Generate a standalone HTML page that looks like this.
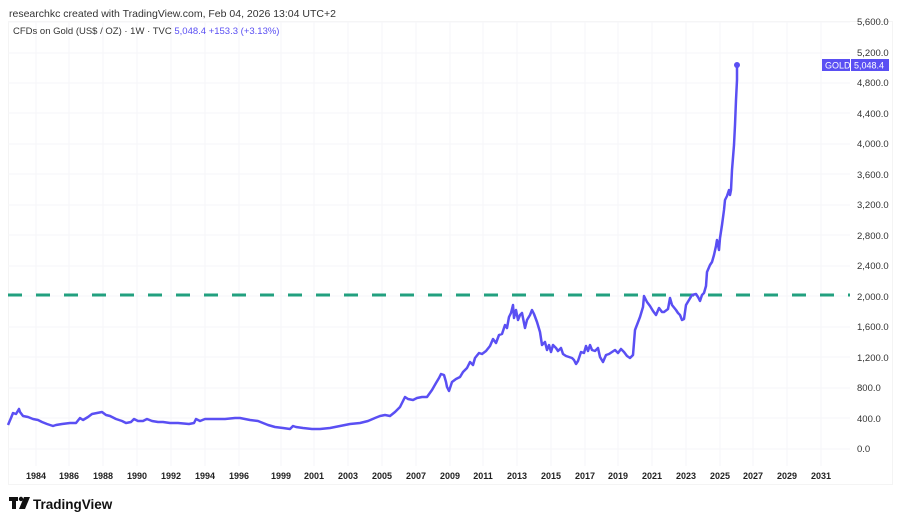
<!DOCTYPE html>
<html><head><meta charset="utf-8"><style>
body{margin:0;background:#fff;font-family:"Liberation Sans",sans-serif;}
.wrap{position:relative;width:902px;height:517px;overflow:hidden;}
</style></head><body><div class="wrap">
<svg width="902" height="517" style="position:absolute;left:0;top:0" font-family="Liberation Sans, sans-serif">
<rect x="8.5" y="21.5" width="884" height="463" fill="none" stroke="#f4f4f4"/>
<g stroke="#f6f6f8" stroke-width="1">
<line x1="8" x2="850" y1="22" y2="22"/><line x1="8" x2="850" y1="53" y2="53"/><line x1="8" x2="850" y1="83" y2="83"/><line x1="8" x2="850" y1="113" y2="113"/><line x1="8" x2="850" y1="144" y2="144"/><line x1="8" x2="850" y1="174" y2="174"/><line x1="8" x2="850" y1="205" y2="205"/><line x1="8" x2="850" y1="235" y2="235"/><line x1="8" x2="850" y1="266" y2="266"/><line x1="8" x2="850" y1="296" y2="296"/><line x1="8" x2="850" y1="327" y2="327"/><line x1="8" x2="850" y1="357" y2="357"/><line x1="8" x2="850" y1="388" y2="388"/><line x1="8" x2="850" y1="418" y2="418"/><line x1="8" x2="850" y1="449" y2="449"/>
<line x1="36" x2="36" y1="22" y2="466"/><line x1="69" x2="69" y1="22" y2="466"/><line x1="103" x2="103" y1="22" y2="466"/><line x1="137" x2="137" y1="22" y2="466"/><line x1="171" x2="171" y1="22" y2="466"/><line x1="205" x2="205" y1="22" y2="466"/><line x1="239" x2="239" y1="22" y2="466"/><line x1="281" x2="281" y1="22" y2="466"/><line x1="314" x2="314" y1="22" y2="466"/><line x1="348" x2="348" y1="22" y2="466"/><line x1="382" x2="382" y1="22" y2="466"/><line x1="416" x2="416" y1="22" y2="466"/><line x1="450" x2="450" y1="22" y2="466"/><line x1="483" x2="483" y1="22" y2="466"/><line x1="517" x2="517" y1="22" y2="466"/><line x1="551" x2="551" y1="22" y2="466"/><line x1="585" x2="585" y1="22" y2="466"/><line x1="618" x2="618" y1="22" y2="466"/><line x1="652" x2="652" y1="22" y2="466"/><line x1="686" x2="686" y1="22" y2="466"/><line x1="720" x2="720" y1="22" y2="466"/><line x1="753" x2="753" y1="22" y2="466"/><line x1="787" x2="787" y1="22" y2="466"/><line x1="821" x2="821" y1="22" y2="466"/>
</g>
<line x1="8" x2="850" y1="295" y2="295" stroke="#22a07f" stroke-width="3" stroke-dasharray="14 14"/>
<polyline fill="none" stroke="#5a4ff3" stroke-width="2.5" stroke-linejoin="round" points="8,425 11,418 13,413 16,414 19,409 20,412 23,416 28,417 33,419 38,420 42,422 47,424 53,426 56,425 62,424 70,423 76,423 80,418 83,420 88,417 92,414 97,413 102,412 106,415 110,416 116,419 122,421 126,423 131,422 134,419 138,421 143,421 147,419 152,421 158,422 163,422 170,423 178,423 189,424 194,423 196,419 200,421 205,419 215,419 225,419 235,418 240,418 250,420 258,421 268,425 275,427 283,428 290,429 293,426 296,427 303,428 312,429 320,429 330,428 340,426 350,424 360,423 368,421 375,418 380,416 385,415 390,416 395,412 400,407 403,401 405,397 408,399 413,400 417,398 422,397 427,397 432,390 436,383 439,378 441,374 444,375 446,382 447,387 449,391 452,382 456,379 460,377 463,372 467,368 470,362 473,365 475,358 479,353 482,354 486,351 490,346 493,339 496,343 499,335 502,334 505,325 507,328 509,317 511,313 513,305 514,318 516,310 518,320 520,315 522,313 525,328 527,320 530,315 532,310 534,314 537,322 540,332 542,345 545,342 547,350 549,345 551,352 553,345 556,348 558,351 561,348 563,354 566,356 569,357 572,358 574,360 576,364 578,361 581,352 584,353 586,346 588,351 590,345 592,350 595,351 598,348 600,357 603,362 606,355 609,354 612,352 615,350 618,353 621,349 624,352 627,356 630,358 633,355 635,330 640,317 643,307 644,296 647,302 650,306 653,311 656,315 659,308 662,312 664,312 668,309 670,298 672,305 676,310 678,313 680,315 682,320 684,319 686,305 689,300 692,295 696,294 698,297 700,301 702,295 704,293 706,286 707,272 710,265 712,262 714,255 716,246 717,240 719,250 720,238 722,225 724,210 725,200 727,196 729,190 730,195 731,190 732,170 734,145 735,125 736,100 737,80 737,65"/>
<circle cx="737" cy="65" r="3" fill="#5a4ff3"/>
<g font-size="9.5" fill="#333">
<text x="857" y="25">5,600.0</text><text x="857" y="56">5,200.0</text><text x="857" y="86">4,800.0</text><text x="857" y="117">4,400.0</text><text x="857" y="147">4,000.0</text><text x="857" y="178">3,600.0</text><text x="857" y="208">3,200.0</text><text x="857" y="239">2,800.0</text><text x="857" y="269">2,400.0</text><text x="857" y="300">2,000.0</text><text x="857" y="330">1,600.0</text><text x="857" y="361">1,200.0</text><text x="857" y="391">800.0</text><text x="857" y="422">400.0</text><text x="857" y="452">0.0</text>
</g>
<rect x="822" y="59" width="28" height="12" fill="#5a4ff3"/><rect x="851" y="59" width="38" height="12" fill="#5a4ff3"/>
<text x="825" y="68.5" font-size="9" fill="#fff">GOLD</text><text x="854" y="68.5" font-size="9" fill="#fff">5,048.4</text>
<g font-size="9" font-weight="bold" fill="#222" text-anchor="middle">
<text x="36" y="479">1984</text><text x="69" y="479">1986</text><text x="103" y="479">1988</text><text x="137" y="479">1990</text><text x="171" y="479">1992</text><text x="205" y="479">1994</text><text x="239" y="479">1996</text><text x="281" y="479">1999</text><text x="314" y="479">2001</text><text x="348" y="479">2003</text><text x="382" y="479">2005</text><text x="416" y="479">2007</text><text x="450" y="479">2009</text><text x="483" y="479">2011</text><text x="517" y="479">2013</text><text x="551" y="479">2015</text><text x="585" y="479">2017</text><text x="618" y="479">2019</text><text x="652" y="479">2021</text><text x="686" y="479">2023</text><text x="720" y="479">2025</text><text x="753" y="479">2027</text><text x="787" y="479">2029</text><text x="821" y="479">2031</text>
</g>
<text x="9" y="17" font-size="10.5" fill="#333">researchkc created with TradingView.com, Feb 04, 2026 13:04 UTC+2</text>
<text x="13" y="34" font-size="9.5" fill="#333">CFDs on Gold (US$ / OZ) · 1W · TVC <tspan fill="#5a4ff3">  5,048.4  +153.3 (+3.13%)</tspan></text>
<g fill="#111"><rect x="9" y="497" width="9" height="4"/><rect x="12" y="497" width="4" height="12"/><circle cx="21" cy="499" r="2.2"/><polygon points="24,497 30,497 25,509 19,509"/></g>
<text x="33" y="509" font-size="13.5" font-weight="bold" fill="#111">TradingView</text>
</svg>
</div></body></html>
